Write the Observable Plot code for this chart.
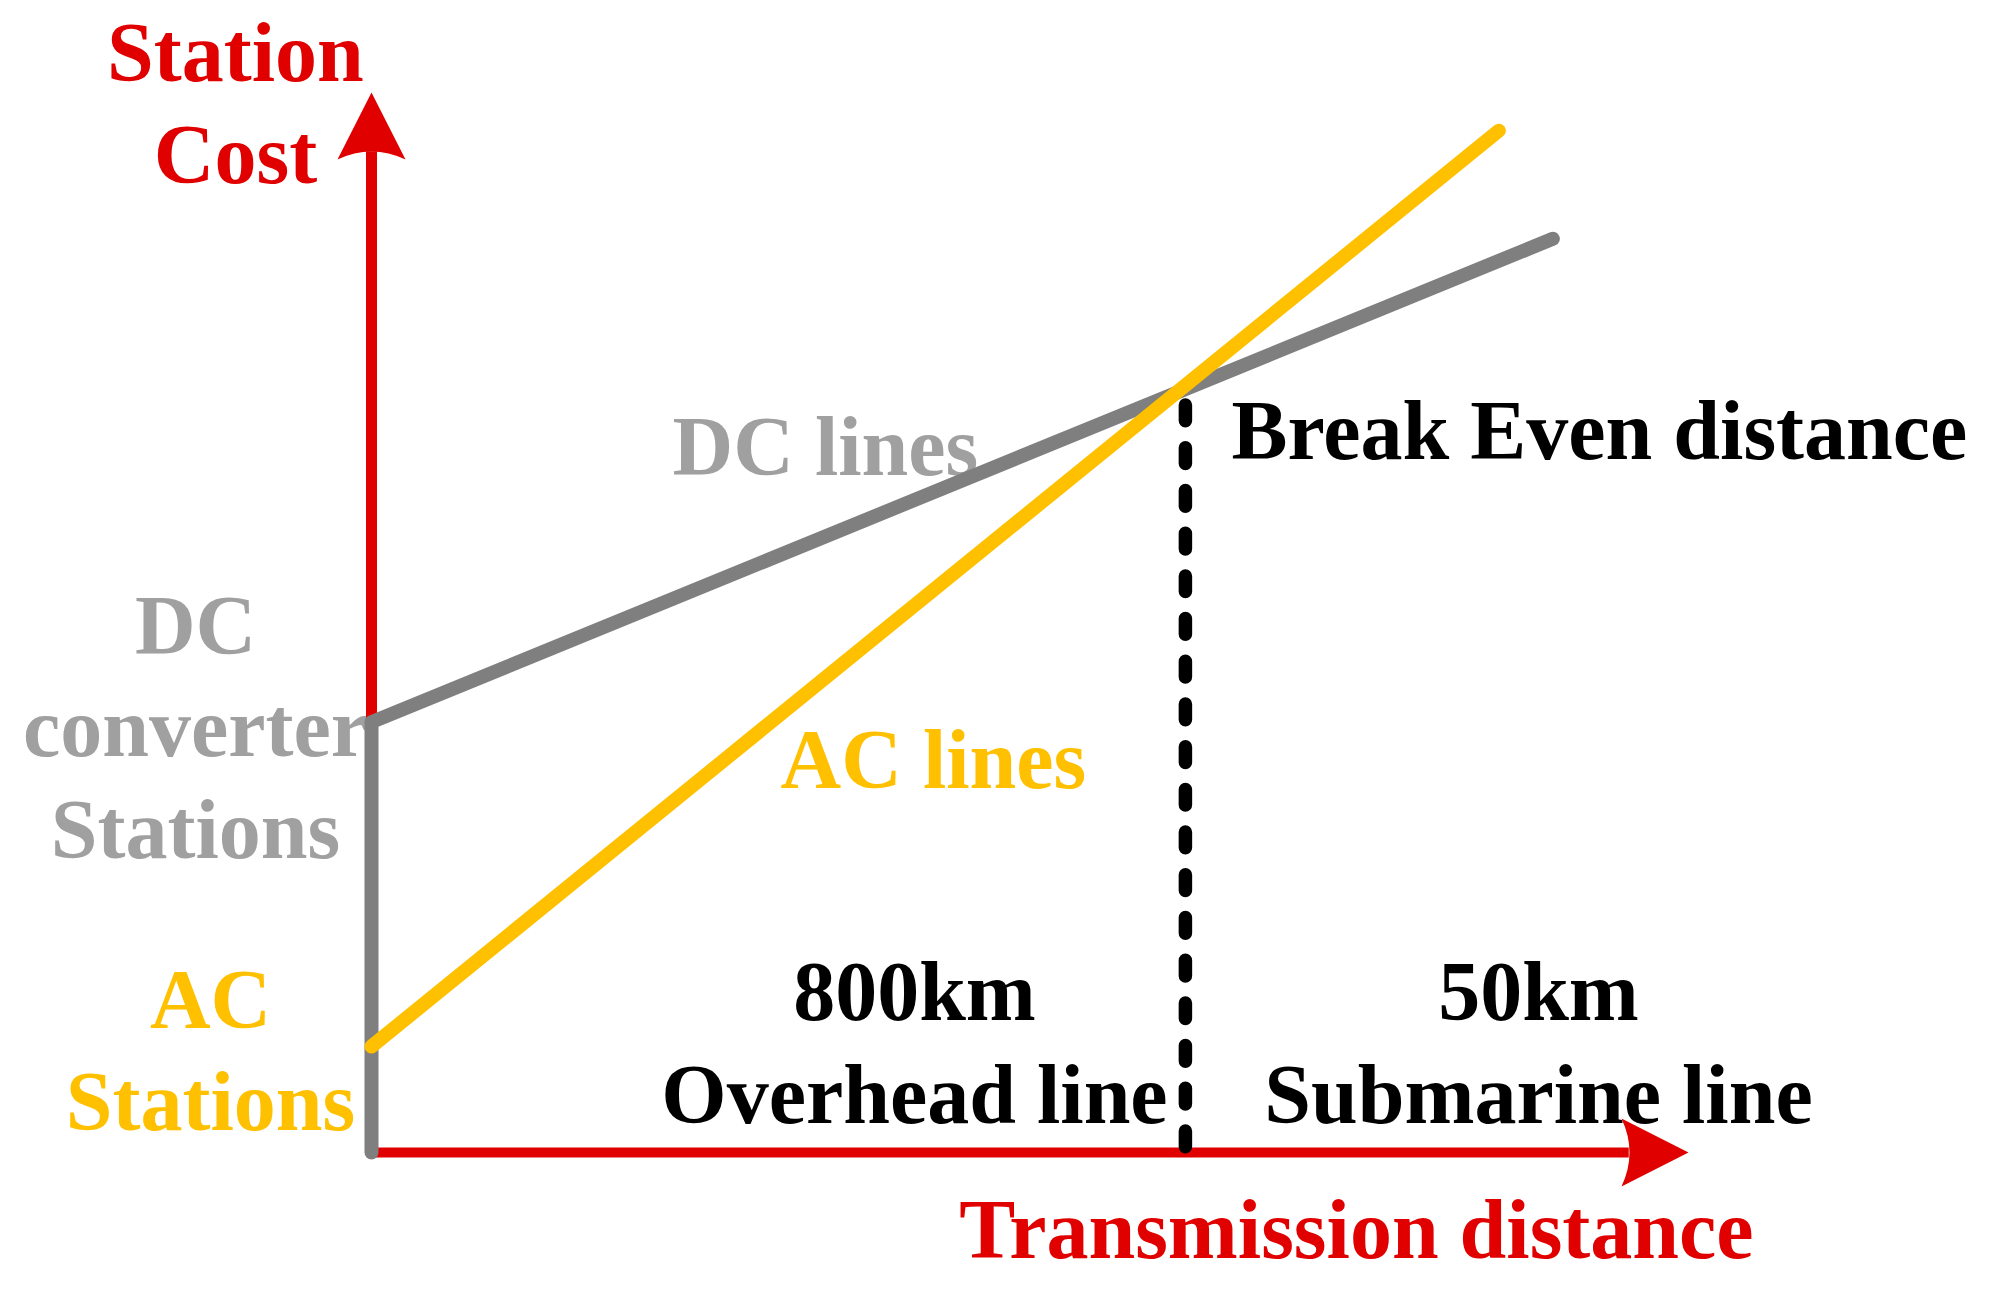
<!DOCTYPE html>
<html>
<head>
<meta charset="utf-8">
<script src="https://cdn.jsdelivr.net/npm/d3@7"></script>
<script src="https://cdn.jsdelivr.net/npm/@observablehq/plot@0.6"></script>
<style>
  html, body { margin: 0; padding: 0; background: #ffffff; }
  #chart svg { display: block; }
</style>
</head>
<body>
<div id="chart"></div>
<script>
// ---- data (conceptual units: distance 0–100, cost 0–100) ----
const dcDistance = [0, 0, 89.7];
const dcCost = [0, 40.6, 86.2];
const acDistance = [0, 85.6];
const acCost = [10.0, 96.4];
const breakEvenDistance = [61.8];
const breakEvenCost = [0.5, 71.7];
const axisDistance = [0, 95.5, 100];
const axisCost = [0, 94.4, 100];

const labelText = [
  "Station\nCost",
  "DC\nconverter\nStations",
  "AC\nStations",
  "DC lines",
  "AC lines",
  "Break Even distance",
  "800km\nOverhead line",
  "50km\nSubmarine line",
  "Transmission distance"
];
const labelDistance = [-10.33, -13.36, -12.22, 22.86, 31.06, 65.30, 41.23, 88.61, 74.79];
const labelCost = [91.42, 27.74, 2.08, 63.87, 34.34, 65.38, 2.83, 2.83, -9.91];

// ---- tables built from the arrays ----
const dcLine = dcDistance.map((d, i) => ({distance: d, cost: dcCost[i]}));
const acLine = acDistance.map((d, i) => ({distance: d, cost: acCost[i]}));
const labels = labelText.map((t, i) => ({text: t, distance: labelDistance[i], cost: labelCost[i]}));
const heads = [
  {distance: 0, cost: axisCost[2], angle: 0},
  {distance: axisDistance[2], cost: 0, angle: 90}
];

const RED = "#e10000", YELLOW = "#ffc000", GRAY_LINE = "#7f7f7f", GRAY_TEXT = "#a0a0a0";
const FONT = "'Liberation Serif', 'Times New Roman', serif";

const arrowHead = {
  draw(context, size) {
    const s = Math.sqrt(size / Math.PI) / 10;
    context.moveTo(0, 0);
    context.lineTo(34 * s, 67 * s);
    context.quadraticCurveTo(17 * s, 59 * s, 0, 59 * s);
    context.quadraticCurveTo(-17 * s, 59 * s, -34 * s, 67 * s);
    context.closePath();
  }
};

function label(i, fill, anchor) {
  return Plot.text([labels[i]], {
    x: "distance", y: "cost", text: "text",
    fill, textAnchor: anchor, lineAnchor: "bottom", lineHeight: 1.22,
    fontSize: 84, fontWeight: "bold", fontFamily: FONT
  });
}

const chart = Plot.plot({
  width: 2001,
  height: 1290,
  margin: 0,
  x: {type: "linear", domain: [0, 100], range: [371, 1688], axis: null},
  y: {type: "linear", domain: [0, 100], range: [1152, 92], axis: null},
  style: {background: "#ffffff", fontFamily: FONT, overflow: "visible"},
  marks: [
    // labels (under the lines)
    label(0, RED, "middle"),
    label(1, GRAY_TEXT, "middle"),
    label(2, YELLOW, "middle"),
    label(3, GRAY_TEXT, "start"),
    label(4, YELLOW, "start"),
    label(5, "#000000", "start"),
    label(6, "#000000", "middle"),
    label(7, "#000000", "middle"),
    label(8, RED, "middle"),
    // axes with arrows
    Plot.ruleY([0], {x1: axisDistance[0], x2: axisDistance[1], stroke: RED, strokeWidth: 10}),
    Plot.ruleX([0], {y1: axisCost[0], y2: axisCost[1], stroke: RED, strokeWidth: 11}),
    Plot.dot(heads, {x: "distance", y: "cost", rotate: "angle", symbol: arrowHead, r: 10, fill: RED, stroke: "none"}),
    // DC cost curve
    Plot.line(dcLine, {x: "distance", y: "cost", stroke: GRAY_LINE, strokeWidth: 14, strokeLinecap: "round", strokeLinejoin: "round"}),
    // AC cost curve
    Plot.line(acLine, {x: "distance", y: "cost", stroke: YELLOW, strokeWidth: 14, strokeLinecap: "round", strokeLinejoin: "round"}),
    // break-even marker
    Plot.ruleX(breakEvenDistance, {y1: breakEvenCost[0], y2: breakEvenCost[1], stroke: "#000000", strokeWidth: 13.5, strokeDasharray: "15.7,27", strokeLinecap: "round"})
  ]
});
document.getElementById("chart").appendChild(chart);
</script>
</body>
</html>
